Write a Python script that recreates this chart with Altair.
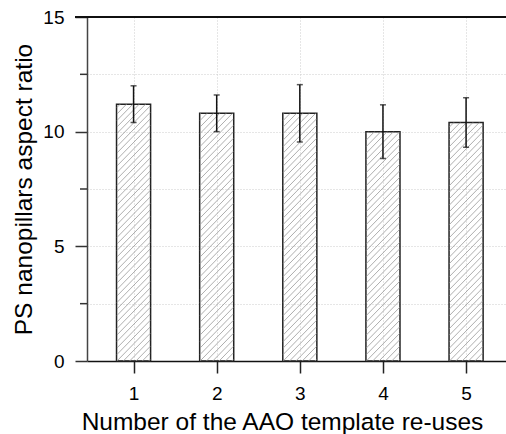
import altair as alt
import pandas as pd

# data
reuses = [1, 2, 3, 4, 5]
aspect_ratio = [11.2, 10.8, 10.8, 10.0, 10.4]
error = [0.8, 0.8, 1.25, 1.17, 1.08]
y_ticks = [0, 2.5, 5, 7.5, 10, 12.5, 15]
minor_ticks = [2.5, 7.5, 12.5]

df = pd.DataFrame({"n": reuses, "val": aspect_ratio, "err": error})
df["lo"] = df["val"] - df["err"]
df["hi"] = df["val"] + df["err"]
df_minor = pd.DataFrame({"t": minor_ticks})

W, H = 419, 344
xdom = [0.5, 5.42]
ydom = [0, 15]
sx = W / (xdom[1] - xdom[0])
sy = H / (ydom[1] - ydom[0])
hw = 0.2          # half bar width (data units)
bw = 2 * hw * sx  # bar width px
step = 6.5        # hatch spacing px
font = "Liberation Sans"

xs = alt.Scale(domain=xdom, nice=False, zero=False)
ys = alt.Scale(domain=ydom, nice=False)

xaxis = alt.Axis(
    values=reuses, format="d",
    title="Number of the AAO template re-uses", titleX=195, titleY=68,
    titleBaseline="alphabetic", titleAlign="center",
)
yaxis = alt.Axis(
    values=y_ticks,
    tickOpacity={"condition": {"test": "datum.value % 5 === 0", "value": 1}, "value": 0},
    labelExpr="datum.value % 5 === 0 ? datum.label : ''",
    title="PS nanopillars aspect ratio", titleX=-56, titleY=172,
    titleBaseline="alphabetic", titleAngle=-90, titleAlign="center",
)

def X(field):
    return alt.X(field, type="quantitative", scale=xs, axis=xaxis)

def Y(field):
    return alt.Y(field, type="quantitative", scale=ys, axis=yaxis)

base = alt.Chart(df)

top_line = base.mark_rule(color="#111", strokeWidth=1.5).encode(
    x=alt.value(-12), x2=alt.value(W), y=alt.value(0)
)

minor = alt.Chart(df_minor).mark_rule(color="#333", strokeWidth=1.5).encode(
    x=alt.value(-7), x2=alt.value(0), y=Y("t")
)

hatch = base.transform_calculate(
    k=f"sequence(ceil(-{bw}/{step})*{step}, datum.val*{sy}, {step})"
).transform_flatten(["k"]).transform_calculate(
    X0="max(0, -datum.k)",
    X1=f"min({bw}, datum.val*{sy} - datum.k)",
).transform_filter("datum.X1 > datum.X0").transform_calculate(
    xa=f"datum.n - {hw} + datum.X0/{sx}",
    ya=f"(datum.X0 + datum.k)/{sy}",
    xb=f"datum.n - {hw} + datum.X1/{sx}",
    yb=f"(datum.X1 + datum.k)/{sy}",
).mark_rule(color="#999999", strokeWidth=0.8).encode(
    x=X("xa"), x2="xb:Q", y=Y("ya"), y2="yb:Q",
)

bars = base.mark_bar(
    fill="transparent", stroke="#222", strokeWidth=1.5, size=bw
).encode(x=X("n"), y=Y("val"))

err_rule = base.mark_rule(color="#111", strokeWidth=1.5).encode(
    x=X("n"), y=Y("lo"), y2="hi:Q"
)
cap_lo = base.mark_tick(color="#111", thickness=1.5, size=6, orient="horizontal").encode(
    x=X("n"), y=Y("lo")
)
cap_hi = base.mark_tick(color="#111", thickness=1.5, size=6, orient="horizontal").encode(
    x=X("n"), y=Y("hi")
)

chart = alt.layer(bars, hatch, err_rule, cap_lo, cap_hi, minor, top_line).properties(
    width=W, height=H,
    autosize=alt.AutoSizeParams(type="none"),
    padding={"left": 87, "top": 17, "right": 0, "bottom": 73},
).configure_view(stroke=None).configure_axis(
    labelFont=font, titleFont=font, labelFontSize=19, titleFontSize=24.5,
    titleFontWeight="normal", titleColor="#000", labelColor="#000",
    grid=True, gridDash=[1, 2], gridColor="#cccccc", tickWidth=1.5, tickSize=12,
).configure_axisX(
    tickColor="#222", domainColor="#111", domainWidth=1.5, labelPadding=11,
).configure_axisY(
    tickColor="#333", domainColor="#444", domainWidth=1.5, labelPadding=11,
)

chart.save("out.html", embed_options={"renderer": "svg", "actions": False})
